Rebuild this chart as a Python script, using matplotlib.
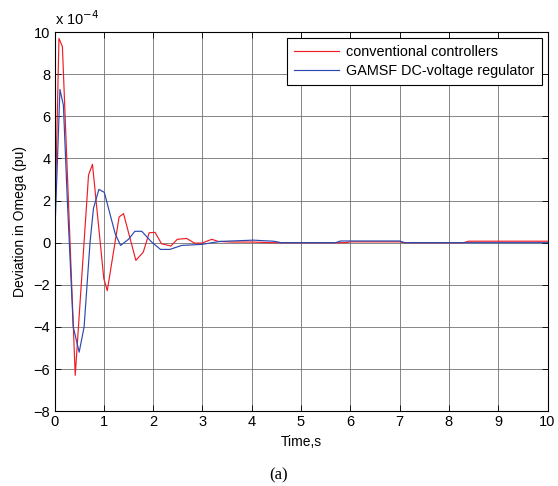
import matplotlib

matplotlib.use("Agg")
import matplotlib.pyplot as plt

# values in units of 1e-4 pu
T_CONV = [0.0, 0.09, 0.16, 0.42, 0.69, 0.77, 1.00, 1.07, 1.31, 1.40, 1.65, 1.80,
          1.92, 2.04, 2.17, 2.36, 2.49, 2.68, 2.84, 2.99, 3.19, 3.32, 3.6, 4.0,
          4.4, 5.0, 5.9, 6.0, 7.0, 7.1, 8.3, 8.4, 10.0]
Y_CONV = [0.0, 9.7, 9.31, -6.3, 3.21, 3.72, -1.71, -2.28, 1.22, 1.38, -0.84, -0.45,
          0.47, 0.49, -0.05, -0.16, 0.16, 0.2, -0.02, -0.02, 0.16, 0.06, 0.03, 0.03,
          0.0, 0.0, 0.0, 0.04, 0.04, 0.0, 0.0, 0.07, 0.07]

T_GAMSF = [0.0, 0.11, 0.18, 0.26, 0.38, 0.50, 0.60, 0.72, 0.79, 0.90, 1.01, 1.23,
           1.34, 1.50, 1.63, 1.77, 1.97, 2.15, 2.34, 2.58, 2.99, 3.36, 4.03, 4.44,
           4.6, 5.7, 5.8, 7.0, 7.1, 10.0]
Y_GAMSF = [0.0, 7.28, 6.53, 2.0, -4.0, -5.2, -4.0, 0.0, 1.63, 2.53, 2.39, 0.43,
           -0.13, 0.16, 0.54, 0.54, 0.03, -0.32, -0.32, -0.13, -0.08, 0.06, 0.12, 0.07,
           0.0, 0.0, 0.08, 0.08, 0.0, 0.0]

X_TICKS = list(range(0, 11))
Y_TICKS = list(range(-8, 11, 2))

plt.rcParams["font.family"] = ["Liberation Sans", "DejaVu Sans"]

fig = plt.figure(figsize=(5.58, 4.86), dpi=100)
ax = fig.add_axes([0.0977, 0.154, 0.8835, 0.78])

ax.plot(T_CONV, Y_CONV, color="#ee1c25", lw=0.85, label="conventional controllers")
ax.plot(T_GAMSF, Y_GAMSF, color="#2b48b0", lw=0.85, label="GAMSF DC-voltage regulator")

ax.set_xlim(0, 10)
ax.set_ylim(-8, 10)
ax.set_xticks(X_TICKS)
ax.set_yticks(Y_TICKS)
ax.grid(True, color="0.45", lw=0.6)
ax.set_axisbelow(True)
ax.tick_params(direction="in", top=True, right=True, labelsize=10.5, length=4, width=0.6, pad=3)
for spine in ax.spines.values():
    spine.set_linewidth(0.8)

ax.set_xlabel("Time,s", fontsize=10, labelpad=4)
ax.set_ylabel("Deviation in Omega (pu)", fontsize=10, labelpad=5)
ax.text(0.0, 1.012, r"x 10$^{-4}$", transform=ax.transAxes, fontsize=10.5, ha="left", va="bottom")

leg = ax.legend(loc="upper right", fontsize=10.4, fancybox=False, framealpha=1,
                edgecolor="black", borderaxespad=0.4, handlelength=3.1,
                handletextpad=0.5, borderpad=0.5, labelspacing=0.35)
leg.get_frame().set_linewidth(0.8)

fig.text(0.5, 0.005, "(a)", ha="center", va="bottom", fontsize=12, family="Liberation Serif")

fig.savefig("out.png", dpi=100)
